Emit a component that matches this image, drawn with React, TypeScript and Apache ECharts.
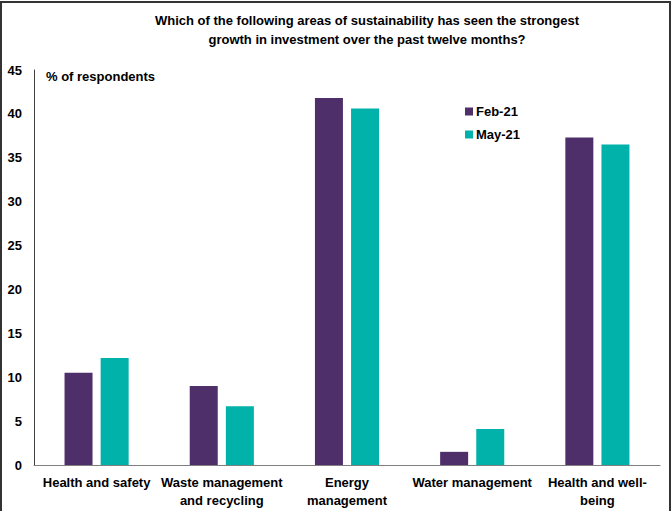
import React, { useEffect, useRef } from "react";
import * as echarts from "echarts";

const categories = [
  "Health and safety",
  "Waste management\nand recycling",
  "Energy\nmanagement",
  "Water management",
  "Health and well-\nbeing",
];
const feb21 = [10.5, 9.0, 41.8, 1.5, 37.3];
const may21 = [12.2, 6.7, 40.6, 4.1, 36.5];
const yTicks = { min: 0, max: 45, interval: 5 };

const FONT = "'Liberation Sans', Arial, sans-serif";

export default function App() {
  const ref = useRef<HTMLDivElement>(null);
  useEffect(() => {
    document.body.style.margin = "0";
    const chart = echarts.init(ref.current!, null, { renderer: "svg" });
    chart.setOption({
      animation: false,
      backgroundColor: "#ffffff",
      textStyle: { fontFamily: FONT },
      title: {
        text: "Which of the following areas of sustainability has seen the strongest\ngrowth in investment over the past twelve months?",
        left: 362,
        top: 6,
        textAlign: "center",
        textStyle: { fontSize: 13, fontWeight: "bold", color: "#000", lineHeight: 19, fontFamily: FONT },
      },
      legend: {
        orient: "vertical",
        left: 460,
        top: 100,
        itemWidth: 8,
        itemHeight: 8,
        itemGap: 10,
        icon: "rect",
        textStyle: { fontSize: 13, fontWeight: "bold", color: "#000", padding: [0, 0, 0, -2], fontFamily: FONT },
        data: ["Feb-21", "May-21"],
      },
      grid: { left: 34, right: 12, top: 70, bottom: 46, containLabel: false },
      xAxis: {
        type: "category",
        data: categories,
        axisLine: { lineStyle: { color: "#7f7f7f", width: 1 } },
        axisTick: { show: false },
        axisLabel: {
          interval: 0,
          fontSize: 13,
          fontWeight: "bold",
          color: "#000",
          lineHeight: 18,
          margin: 8,
          fontFamily: FONT,
        },
      },
      yAxis: {
        type: "value",
        min: yTicks.min,
        max: yTicks.max,
        interval: yTicks.interval,
        axisLine: { show: true, lineStyle: { color: "#404040", width: 1 } },
        axisTick: { show: false },
        splitLine: { show: false },
        axisLabel: { fontSize: 13, fontWeight: "bold", color: "#000", margin: 12, fontFamily: FONT },
      },
      series: [
        {
          name: "Feb-21",
          type: "bar",
          data: feb21,
          itemStyle: { color: "#4E2F6A" },
          barWidth: 28,
          barGap: "29%",
        },
        {
          name: "May-21",
          type: "bar",
          data: may21,
          itemStyle: { color: "#00B2A9" },
          barWidth: 28,
          barGap: "29%",
        },
      ],
      graphic: [
        {
          type: "text",
          left: 46,
          top: 70,
          style: { text: "% of respondents", fill: "#000", font: `bold 13px ${FONT}` },
        },
        {
          type: "rect",
          shape: { x: 1, y: 2, width: 669, height: 530 },
          style: { fill: "none", stroke: "#333333", lineWidth: 2 },
          silent: true,
        },
      ],
    });
    return () => chart.dispose();
  }, []);
  return <div ref={ref} style={{ width: 672, height: 511, position: "absolute", left: 0, top: 0 }} />;
}
